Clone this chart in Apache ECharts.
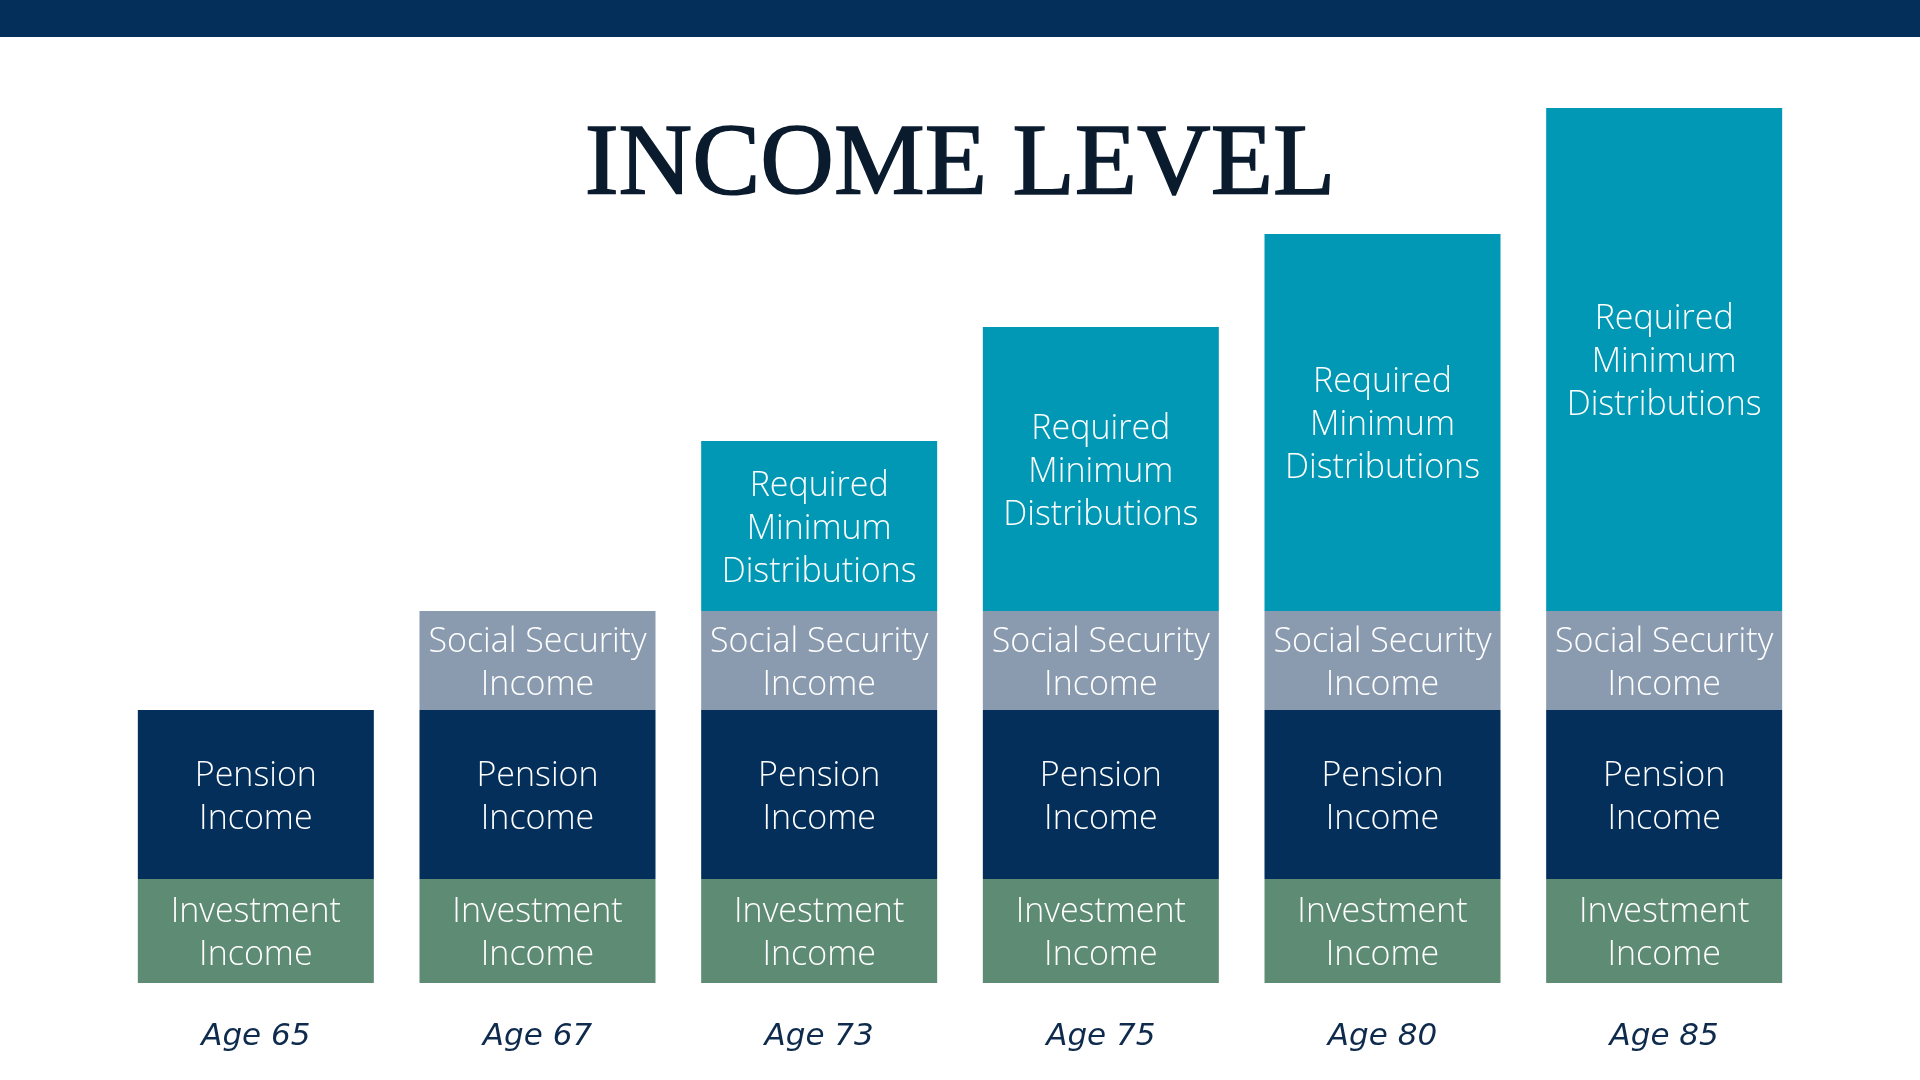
<!DOCTYPE html>
<html>
<head>
<meta charset="utf-8">
<script src="https://cdn.jsdelivr.net/npm/echarts@6/dist/echarts.min.js"></script>
<style>
html,body{margin:0;padding:0;background:#fff;}
#c{width:1920px;height:1080px;}
</style>
</head>
<body>
<div id="c"></div>
<script>
var categories = ['Age 65', 'Age 67', 'Age 73', 'Age 75', 'Age 80', 'Age 85'];
var seriesNames = ['Investment Income', 'Pension Income', 'Social Security Income', 'Required Minimum Distributions'];
var seriesLabels = ['Investment\nIncome', 'Pension\nIncome', 'Social Security\nIncome', 'Required\nMinimum\nDistributions'];
var investment = [104, 104, 104, 104, 104, 104];
var pension = [169, 169, 169, 169, 169, 169];
var socialSecurity = [0, 99, 99, 99, 99, 99];
var rmd = [0, 0, 170, 284, 377, 503];
var colors = ['#5e8b73', '#032f5a', '#8a9bb0', '#0098b4'];

var values = [investment, pension, socialSecurity, rmd];
var chart = echarts.init(document.getElementById('c'));
var series = values.map(function (arr, i) {
  return {
    name: seriesNames[i],
    type: 'bar',
    stack: 'income',
    barWidth: 236,
    data: arr,
    itemStyle: { color: colors[i] },
    label: {
      show: true,
      position: 'inside',
      offset: [0, 3],
      color: '#ffffff',
      fontFamily: 'Open Sans',
      fontWeight: 300,
      fontSize: 34,
      lineHeight: 43,
      align: 'center',
      formatter: function (p) { return p.value > 0 ? seriesLabels[i] : ''; }
    }
  };
});

chart.setOption({
  backgroundColor: '#ffffff',
  animation: false,
  title: {
    text: 'INCOME LEVEL',
    left: 'center',
    top: 111,
    textStyle: {
      fontFamily: 'Liberation Serif',
      fontWeight: 'normal',
      fontSize: 102,
      color: '#0b1b2e',
      textBorderColor: '#0b1b2e',
      textBorderWidth: 1.5
    }
  },
  graphic: [{
    type: 'rect',
    shape: { x: 0, y: 0, width: 1920, height: 37 },
    style: { fill: '#032f5a' }
  }],
  grid: { left: 115, right: 115, top: 83, bottom: 97 },
  xAxis: {
    type: 'category',
    data: categories,
    axisLine: { show: false },
    axisTick: { show: false },
    axisLabel: {
      margin: 38,
      fontFamily: 'DejaVu Sans',
      fontStyle: 'italic',
      fontSize: 31,
      color: '#0e2a4c'
    }
  },
  yAxis: {
    type: 'value',
    min: 0,
    max: 900,
    show: false,
    splitLine: { show: false }
  },
  series: series
});
</script>
</body>
</html>
